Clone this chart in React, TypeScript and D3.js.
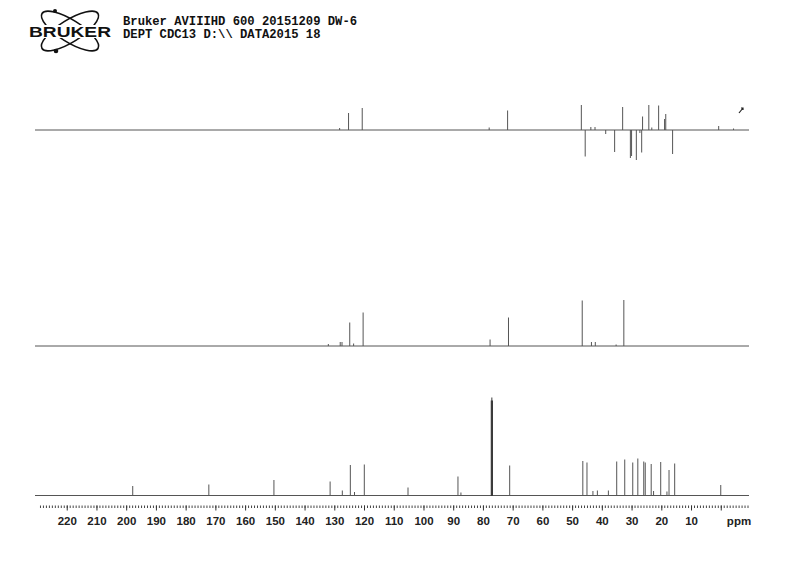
import React, { useEffect, useRef } from "react";
import * as d3 from "d3";

// header text
const titleLines = ["Bruker AVIIIHD 600 20151209 DW-6", "DEPT CDC13 D:\\\\ DATA2015 18"];

// axis
const ppmDomain = [230, -9.5];
const majorTicks = [220, 210, 200, 190, 180, 170, 160, 150, 140, 130, 120, 110, 100, 90, 80, 70, 60, 50, 40, 30, 20, 10];

// DEPT-135 (top): ppm / signed intensity
const dept135Ppm = [128.2, 125.2, 120.6, 77.9, 71.7, 46.9, 45.6, 43.7, 42.3, 38.7, 35.7, 33.0, 30.4, 30.0, 28.4, 27.2, 26.6, 26.3, 24.2, 23.2, 20.9, 18.9, 18.5, 16.2, 0.7, -4.3];
const dept135Int = [2, 17, 22, 2.5, 19.5, 25, -26.5, 3, 3, -4, -22, 23, -28, -26, -30, -3, -22.5, 13.5, 25, 2.5, 24.5, 11, 16, -24, 4, 1.5];

// DEPT-90 (middle)
const dept90Ppm = [132.0, 128.0, 127.4, 124.8, 123.5, 120.3, 77.6, 71.4, 46.6, 43.5, 42.2, 35.2, 32.6];
const dept90Int = [2, 4, 4, 23.5, 2.5, 33.5, 6.5, 28.5, 45.5, 4, 4, 1.5, 46];

// 13C (bottom)
const carbonPpm = [197.8, 172.2, 150.3, 131.4, 127.3, 124.6, 123.2, 119.9, 105.2, 88.4, 87.4, 77.2, 77.0, 76.8, 71.0, 46.4, 45.0, 43.0, 41.5, 37.8, 35.0, 32.3, 29.6, 27.9, 25.9, 25.4, 23.4, 22.6, 20.2, 18.1, 17.4, 15.5, 0.0];
const carbonInt = [9.5, 11, 15.5, 14, 5, 30.5, 3.5, 31, 8, 19, 3, 95, 98, 95, 30, 34.5, 33, 4.5, 5, 5, 34, 36, 33, 37, 34, 33, 31.5, 4.5, 33.5, 4, 25.5, 32, 10.5];

export default function App() {
  const ref = useRef<SVGSVGElement>(null);

  useEffect(() => {
    const width = 800;
    const height = 562;
    const svg = d3.select(ref.current);
    svg.selectAll("*").remove();

    const x = d3.scaleLinear().domain(ppmDomain).range([37, 749]);

    // one trace = baseline + stick peaks
    const drawTrace = (ppm, ints, base, color, solvent) => {
      const y = d3.scaleLinear().domain([0, 100]).range([base, base - 100]);
      const p = d3.path();
      p.moveTo(x(ppmDomain[0]) - 2, y(0));
      p.lineTo(x(ppmDomain[1]), y(0));
      ppm.forEach((v, i) => {
        if (solvent && v > 76.5 && v < 77.5) return;
        p.moveTo(x(v), y(0));
        p.lineTo(x(v), y(ints[i]));
      });
      svg
        .append("path")
        .attr("d", p.toString())
        .attr("fill", "none")
        .attr("stroke", color)
        .attr("stroke-width", 1);
      if (solvent) {
        const s = d3.path();
        ppm.forEach((v, i) => {
          if (v > 76.5 && v < 77.5) {
            s.moveTo(x(v), y(0));
            s.lineTo(x(v), y(ints[i]));
          }
        });
        svg
          .append("path")
          .attr("d", s.toString())
          .attr("fill", "none")
          .attr("stroke", "#222")
          .attr("stroke-width", 0.9);
      }
    };

    drawTrace(dept135Ppm, dept135Int, 130, "#555", false);
    drawTrace(dept90Ppm, dept90Int, 346, "#555", false);
    drawTrace(carbonPpm, carbonInt, 495.5, "#555", true);

    // little arrow mark top right
    svg
      .append("path")
      .attr("d", "M739,113 L743,108 M741,108 L743,108 L743,110")
      .attr("fill", "none")
      .attr("stroke", "#222")
      .attr("stroke-width", 1.2);

    // ppm axis
    const minor = d3.range(229, -10, -1);
    const axisMinor = svg
      .append("g")
      .attr("transform", "translate(0,505.5)")
      .call(d3.axisBottom(x).tickValues(minor).tickSize(2.5).tickFormat(() => ""));
    axisMinor.select(".domain").remove();
    axisMinor.selectAll("line").attr("stroke", "#444");

    const axisMajor = svg
      .append("g")
      .attr("transform", "translate(0,505.5)")
      .call(d3.axisBottom(x).tickValues(majorTicks.concat([0])).tickSize(5).tickPadding(6).tickFormat((d) => (d === 0 ? "" : String(d))));
    axisMajor.select(".domain").remove();
    axisMajor.selectAll("line").attr("stroke", "#333");
    axisMajor
      .selectAll("text")
      .attr("fill", "#222")
      .style("font-family", "Liberation Sans, Arial, sans-serif")
      .style("font-weight", "bold")
      .style("font-size", "11.5px");

    svg
      .append("text")
      .attr("x", 739)
      .attr("y", 525)
      .attr("text-anchor", "middle")
      .attr("fill", "#222")
      .style("font-family", "Liberation Sans, Arial, sans-serif")
      .style("font-weight", "bold")
      .style("font-size", "11.5px")
      .text("ppm");

    // header
    svg
      .selectAll("text.title")
      .data(titleLines)
      .enter()
      .append("text")
      .attr("class", "title")
      .attr("x", 123)
      .attr("y", (d, i) => 25 + i * 12.5)
      .attr("fill", "#111")
      .style("font-family", "Liberation Mono, Courier New, monospace")
      .style("font-weight", "bold")
      .style("font-size", "12.2px")
      .text((d) => d);

    // logo
    const logo = svg.append("g").attr("transform", "translate(70,31)");
    [-32, 32].forEach((a) => {
      logo
        .append("ellipse")
        .attr("rx", 33)
        .attr("ry", 11)
        .attr("transform", `rotate(${a})`)
        .attr("fill", "none")
        .attr("stroke", "#111")
        .attr("stroke-width", 1.6);
    });
    logo.append("circle").attr("cx", -15).attr("cy", -20).attr("r", 2).attr("fill", "#111");
    logo.append("circle").attr("cx", -14).attr("cy", 20).attr("r", 2.3).attr("fill", "#111");
    logo
      .append("rect")
      .attr("x", -43)
      .attr("y", -6)
      .attr("width", 86)
      .attr("height", 13)
      .attr("fill", "#fff");
    logo
      .append("text")
      .attr("x", 0)
      .attr("y", 6)
      .attr("text-anchor", "middle")
      .attr("textLength", 82)
      .attr("lengthAdjust", "spacingAndGlyphs")
      .attr("fill", "#111")
      .style("font-family", "Liberation Sans, Arial, sans-serif")
      .style("font-weight", "900")
      .style("font-size", "14.5px")
      .text("BRUKER");

    svg.attr("width", width).attr("height", height);
  }, []);

  return (
    <svg
      ref={ref}
      width={800}
      height={562}
      style={{ position: "absolute", left: 0, top: 0, background: "#fff" }}
    />
  );
}
